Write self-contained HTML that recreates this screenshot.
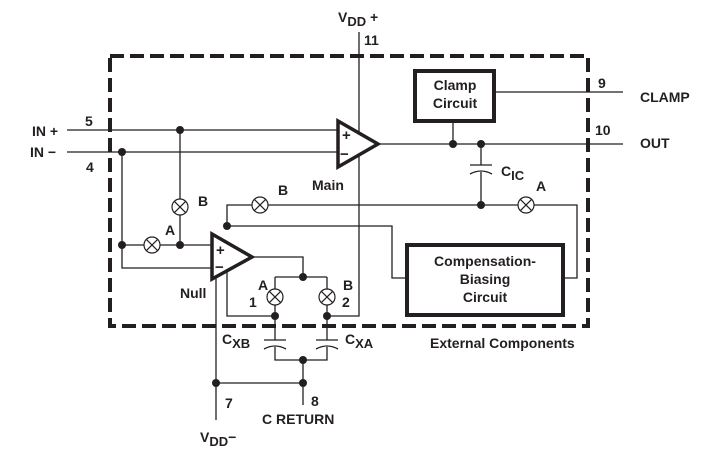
<!DOCTYPE html>
<html><head><style>body{margin:0;background:#fff}svg{display:block}text{font-family:"Liberation Sans",sans-serif;font-weight:bold;fill:#231f20}</style></head><body>
<svg width="705" height="450" viewBox="0 0 705 450" xmlns="http://www.w3.org/2000/svg">
<defs>
<g id="sw"><circle r="8" fill="#fff" stroke="#231f20" stroke-width="1.2"/><path d="M-5.6,-5.6L5.6,5.6M5.6,-5.6L-5.6,5.6" stroke="#231f20" stroke-width="1.2"/></g>
</defs>
<g stroke="#231f20" stroke-width="1.3" fill="none">
<rect x="110" y="56" width="478" height="270" stroke-width="4" stroke-dasharray="14,6"/>
<path d="M67 130H338M67 152H338"/>
<path d="M180 130V245M122 152V268H212M122 245H212"/>
<path d="M359 32V316H327"/>
<path d="M378 144H623"/>
<path d="M494 92H623M453 121V144"/>
<path d="M481 144V165M481 172V205"/>
<path d="M470 165H492M470 174Q481 168 492 174"/>
<path d="M227 226V205H577V278H563"/>
<path d="M227 226H392V278H407"/>
<path d="M252 257H303V277M275 277H327M275 277V316M327 277V316"/>
<path d="M275 316H227V270"/>
<path d="M216 275V420M216 383H303M303 360V405"/>
<path d="M275 316V340M275 347V360H327V347M327 316V340"/>
<path d="M264 340H286M264 349Q275 343 286 349M316 340H338M316 349Q327 343 338 349"/>
</g>
<rect x="415" y="71" width="79" height="50" fill="none" stroke="#231f20" stroke-width="4"/>
<rect x="407" y="245" width="156" height="70" fill="none" stroke="#231f20" stroke-width="4"/>
<path d="M338 121L378 144L338 167Z" fill="#fff" stroke="#231f20" stroke-width="3.5"/>
<path d="M212 234L252 257L212 279Z" fill="#fff" stroke="#231f20" stroke-width="3.5"/>
<use href="#sw" x="180" y="207"/><use href="#sw" x="152" y="245"/><use href="#sw" x="260" y="205"/>
<use href="#sw" x="526" y="205"/><use href="#sw" x="275" y="297"/><use href="#sw" x="327" y="297"/>
<g fill="#231f20">
<circle cx="180" cy="130" r="4"/><circle cx="122" cy="152" r="4"/><circle cx="122" cy="245" r="4"/><circle cx="180" cy="245" r="4"/>
<circle cx="227" cy="226" r="4"/><circle cx="303" cy="277" r="4"/><circle cx="275" cy="316" r="4"/><circle cx="327" cy="316" r="4"/>
<circle cx="303" cy="360" r="4"/><circle cx="216" cy="383" r="4"/><circle cx="303" cy="383" r="4"/>
<circle cx="453" cy="144" r="4"/><circle cx="481" cy="144" r="4"/><circle cx="481" cy="205" r="4"/>
</g>
<g font-size="14">
<text x="338" y="22">V<tspan font-size="13" dy="4">DD</tspan><tspan dy="-4"> +</tspan></text>
<text x="364" y="45">11</text>
<text x="32" y="136">IN +</text><text x="30" y="157">IN −</text>
<text x="85" y="126">5</text><text x="86" y="172">4</text>
<text x="342" y="140" font-size="15">+</text><text x="340" y="159" font-size="15">−</text>
<text x="216" y="255" font-size="15">+</text><text x="215" y="272" font-size="15">−</text>
<text x="312" y="190">Main</text><text x="180" y="298">Null</text>
<text x="198" y="206">B</text><text x="165" y="235">A</text><text x="278" y="195">B</text>
<text x="536" y="191">A</text>
<text x="258" y="290">A</text><text x="249" y="307">1</text><text x="343" y="290">B</text><text x="342" y="307">2</text>
<text x="501" y="176">C<tspan font-size="13" dy="4">IC</tspan></text>
<text x="222" y="344">C<tspan font-size="13" dy="4">XB</tspan></text>
<text x="345" y="344">C<tspan font-size="13" dy="4">XA</tspan></text>
<text x="225" y="408">7</text><text x="311" y="406">8</text>
<text x="262" y="424">C RETURN</text>
<text x="200" y="442">V<tspan font-size="13" dy="4">DD</tspan><tspan dy="-4">−</tspan></text>
<text x="598" y="88">9</text><text x="595" y="135">10</text>
<text x="640" y="102">CLAMP</text><text x="640" y="148">OUT</text>
<g text-anchor="middle"><text x="455" y="90">Clamp</text><text x="455" y="108">Circuit</text>
<text x="485" y="266">Compensation-</text><text x="485" y="284">Biasing</text><text x="485" y="302">Circuit</text></g>
<text x="430" y="348">External Components</text>
</g>
</svg>
</body></html>
